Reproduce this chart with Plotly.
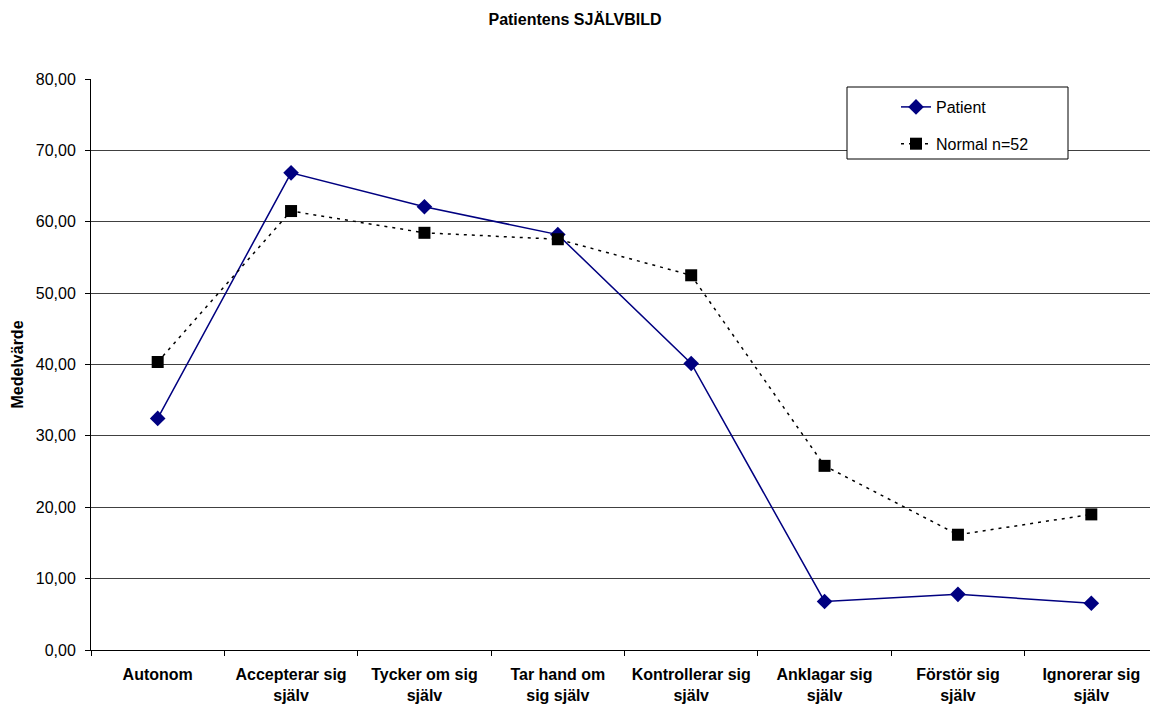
import plotly.graph_objects as go

# Category labels (two-line where the original wraps)
categories = [
    "Autonom",
    "Accepterar sig<br>själv",
    "Tycker om sig<br>själv",
    "Tar hand om<br>sig själv",
    "Kontrollerar sig<br>själv",
    "Anklagar sig<br>själv",
    "Förstör sig<br>själv",
    "Ignorerar sig<br>själv",
]

patient = [32.45, 66.85, 62.1, 58.2, 40.15, 6.8, 7.8, 6.55]
normal = [40.35, 61.5, 58.45, 57.55, 52.5, 25.8, 16.15, 19.0]

y_ticks = [0, 10, 20, 30, 40, 50, 60, 70, 80]
y_tick_text = [f"{v:.2f}".replace(".", ",") for v in y_ticks]

font_family = "Liberation Sans, Arial, sans-serif"

fig = go.Figure()
fig.add_trace(go.Scatter(
    x=categories, y=patient, name="Patient", mode="lines+markers",
    line=dict(color="#000080", width=1.5),
    marker=dict(symbol="diamond", size=12, color="#000080"),
    legendgroup="a",
))
fig.add_trace(go.Scatter(
    x=categories, y=normal, name="Normal n=52", mode="lines+markers",
    line=dict(color="#000000", width=1.5, dash="3px,5px"),
    marker=dict(symbol="square", size=12, color="#000000"),
    legendgroup="b",
))

# Legend frame
fig.add_shape(
    type="rect", xref="paper", yref="paper",
    x0=(847 - 91) / 1059, x1=(1068 - 91) / 1059,
    y0=(650 - 159) / 571, y1=(650 - 87) / 571,
    line=dict(color="black", width=1), fillcolor="white", layer="above",
)

fig.update_layout(
    width=1150, height=704,
    margin=dict(l=91, r=0, t=79, b=54),
    paper_bgcolor="white", plot_bgcolor="white",
    font=dict(family=font_family, size=15, color="black"),
    title=dict(
        text="<b>Patientens SJÄLVBILD</b>",
        x=0.5, xanchor="center", y=1 - 19 / 704, yanchor="middle",
        font=dict(size=16),
    ),
    showlegend=True,
    legend=dict(
        x=(896 - 91) / 1059, y=(650 - 90) / 571, xanchor="left", yanchor="top",
        bgcolor="rgba(0,0,0,0)", borderwidth=0,
        tracegroupgap=13, font=dict(size=16),
    ),
    xaxis=dict(
        type="category", range=[-0.5, 7.44],
        showline=True, linecolor="black", linewidth=1,
        ticks="outside", tickson="boundaries", ticklen=5, tickcolor="black",
        ticklabelstandoff=10,
        showgrid=False, tickfont=dict(size=16, family=font_family),
        zeroline=False,
    ),
    yaxis=dict(
        range=[0, 80], tickvals=y_ticks, ticktext=y_tick_text,
        showline=True, linecolor="black", linewidth=1,
        ticks="outside", ticklen=5, tickcolor="black",
        ticklabelstandoff=6, tickfont=dict(size=16),
        showgrid=True, gridcolor="#404040", gridwidth=1,
        zeroline=False,
        title=dict(text="<b>Medelvärde</b>", font=dict(size=16), standoff=8),
    ),
)

# Bold category labels
fig.update_xaxes(ticktext=[f"<b>{c}</b>" for c in categories], tickvals=categories)

fig.write_html("out.html")
